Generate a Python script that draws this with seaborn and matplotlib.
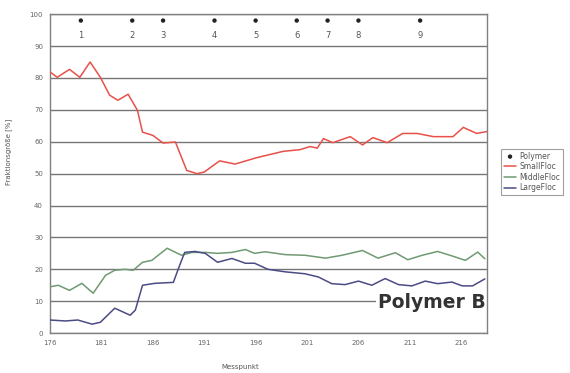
import numpy as np
import pandas as pd
import matplotlib
matplotlib.use("Agg")
import matplotlib.pyplot as plt
import seaborn as sns

# --- data -------------------------------------------------------------
polymer_x = [179, 184, 187, 192, 196, 200, 203, 206, 212]
polymer_y = [98, 98, 98, 98, 98, 98, 98, 98, 98]
polymer_labels = ["1", "2", "3", "4", "5", "6", "7", "8", "9"]

small_x = [176.0, 176.7, 177.9, 178.9, 179.9, 180.9, 181.8, 182.6, 183.6, 184.5,
           185.0, 186.0, 187.0, 188.2, 189.3, 190.3, 191.0, 192.5, 194.0, 196.1,
           198.7, 200.3, 201.3, 202.0, 202.6, 203.5, 205.2, 206.4, 207.4, 208.8,
           210.3, 211.7, 213.3, 215.2, 216.2, 217.5, 218.5]
small_y = [81.9, 80.2, 82.7, 80.2, 85.0, 80.2, 74.6, 73.0, 74.9, 69.9,
           63.0, 62.0, 59.6, 59.9, 51.0, 50.0, 50.5, 54.0, 53.0, 55.0,
           57.0, 57.5, 58.5, 58.0, 61.0, 59.7, 61.6, 59.0, 61.3, 59.7,
           62.6, 62.6, 61.6, 61.6, 64.5, 62.6, 63.2]

middle_x = [176.0, 176.8, 177.9, 179.1, 180.2, 181.4, 182.3, 183.3, 184.1, 185.0,
            185.9, 187.4, 188.8, 189.8, 191.1, 192.3, 193.7, 195.0, 195.9, 196.9,
            198.9, 200.8, 202.8, 204.4, 206.4, 207.9, 209.6, 210.8, 212.2, 213.7,
            215.1, 216.4, 217.6, 218.3]
middle_y = [14.5, 15.0, 13.4, 15.6, 12.5, 18.1, 19.7, 20.0, 19.7, 22.2,
            22.8, 26.6, 24.4, 25.3, 25.3, 25.0, 25.3, 26.2, 25.0, 25.5,
            24.6, 24.4, 23.5, 24.4, 25.9, 23.5, 25.2, 23.0, 24.4, 25.6,
            24.2, 22.8, 25.4, 23.3]

large_x = [176.0, 177.5, 178.7, 180.1, 180.9, 182.3, 183.8, 184.3, 185.0, 186.2,
           188.0, 188.5, 189.1, 190.1, 191.1, 192.3, 193.7, 195.0, 195.9, 197.2,
           198.9, 200.8, 202.1, 203.4, 204.7, 206.0, 207.3, 208.6, 209.9, 211.2,
           212.5, 213.7, 215.1, 216.1, 217.1, 218.3]
large_y = [4.1, 3.8, 4.1, 2.8, 3.4, 7.8, 5.6, 7.2, 15.0, 15.6,
           15.9, 20.3, 25.3, 25.6, 25.0, 22.2, 23.4, 21.9, 21.9, 20.0,
           19.2, 18.6, 17.6, 15.5, 15.2, 16.3, 15.0, 17.1, 15.2, 14.8,
           16.3, 15.5, 16.0, 14.8, 14.8, 17.0]

x_ticks = [176, 181, 186, 191, 196, 201, 206, 211, 216]
y_ticks = [0, 10, 20, 30, 40, 50, 60, 70, 80, 90, 100]

# --- plot -------------------------------------------------------------
sns.set_style("white")
plt.rcParams['font.family'] = ['DejaVu Sans']

fig = plt.figure(figsize=(5.7, 3.73), dpi=100)
ax = fig.add_axes([0.0877, 0.107, 0.7666, 0.855])

grid_c = "#767676"
for v in y_ticks:
    ax.axhline(v, color=grid_c, lw=1.0, zorder=0)

c_small = "#e8504a"
c_mid = "#6f9a72"
c_large = "#4b4b85"

sns.lineplot(x=small_x, y=small_y, ax=ax, color=c_small, lw=1.1, label="SmallFloc", zorder=3)
sns.lineplot(x=middle_x, y=middle_y, ax=ax, color=c_mid, lw=1.1, label="MiddleFloc", zorder=3)
sns.lineplot(x=large_x, y=large_y, ax=ax, color=c_large, lw=1.1, label="LargeFloc", zorder=3)
sns.scatterplot(x=polymer_x, y=polymer_y, ax=ax, color="#222222", s=10,
                edgecolor="none", label="Polymer", zorder=4)

for px, lab in zip(polymer_x, polymer_labels):
    ax.text(px, 93.4, lab, ha="center", va="center", fontsize=6, color="#555555")

ax.text(218.4, 9.6, "Polymer B", ha="right", va="center", fontsize=13.5,
        fontweight="bold", color="#333333", zorder=2,
        bbox=dict(facecolor="white", edgecolor="none", pad=1.5))

ax.set_xlim(176, 218.5)
ax.set_ylim(0, 100)
ax.set_xticks(x_ticks)
ax.set_yticks(y_ticks)
ax.tick_params(axis="both", labelsize=5, colors="#666666", length=3, direction="out",
               width=0.8)
ax.tick_params(axis="x", pad=2)
ax.tick_params(axis="y", pad=2)
for s in ax.spines.values():
    s.set_color("#808080")
    s.set_linewidth(1.0)

ax.set_xlabel("Messpunkt", fontsize=5, color="#555555")
ax.set_ylabel("Fraktionsgröße [%]", fontsize=5, color="#555555")
ax.xaxis.set_label_coords(0.435, -0.097)
ax.yaxis.set_label_coords(-0.087, 0.567)

handles, labels = ax.get_legend_handles_labels()
order = [labels.index(n) for n in ["Polymer", "SmallFloc", "MiddleFloc", "LargeFloc"]]
leg = ax.legend([handles[i] for i in order], [labels[i] for i in order],
                loc="upper left", bbox_to_anchor=(0.872, 0.612),
                bbox_transform=fig.transFigure, fontsize=5.5, frameon=True,
                fancybox=False, edgecolor="#888888", handlelength=1.6,
                borderpad=0.4, labelspacing=0.2, handletextpad=0.4)
leg.get_frame().set_linewidth(0.8)
for t in leg.get_texts():
    t.set_color("#555555")

fig.savefig("out.png", dpi=100)
